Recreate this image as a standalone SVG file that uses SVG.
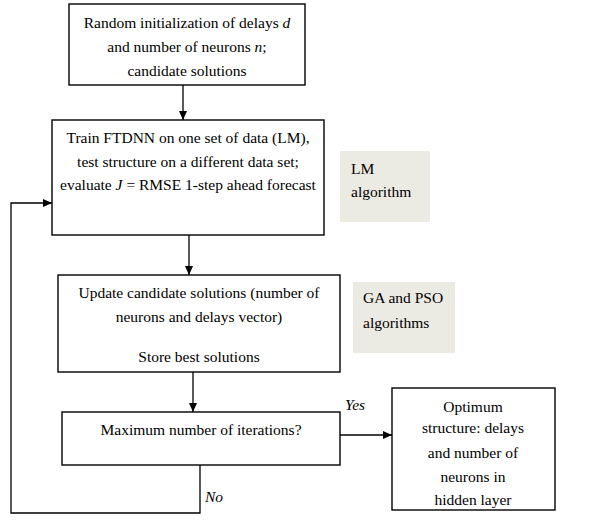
<svg xmlns="http://www.w3.org/2000/svg" width="616" height="521" viewBox="0 0 616 521">
<style>
.box{fill:#fff;stroke:#000;stroke-width:1.4}
.note{fill:#ecebe3;stroke:none}
text{font-family:'Liberation Serif',Tinos,'Times New Roman',serif;font-size:15.5px;fill:#000}
.c{text-anchor:middle}
.i{font-style:italic}
.ln{fill:none;stroke:#000;stroke-width:1.3}
</style>
<defs>
<marker id="ah" markerWidth="10" markerHeight="10" refX="9" refY="5" orient="auto" markerUnits="userSpaceOnUse">
<path d="M0,1 L9,5 L0,9 Z" fill="#000"/>
</marker>
</defs>
<rect width="616" height="521" fill="#fff"/>
<g id="n1">
<rect class="box" x="69" y="4" width="236" height="81"/>
<text class="c" x="187" y="28">Random initialization of delays <tspan class="i">d</tspan></text>
<text class="c" x="187" y="52">and number of neurons <tspan class="i">n</tspan>;</text>
<text class="c" x="187" y="76">candidate solutions</text>
</g>
<g id="n2">
<rect class="box" x="52" y="120" width="272" height="115"/>
<text class="c" x="188" y="143">Train FTDNN  on one set of data (LM),</text>
<text class="c" x="188" y="167">test structure on a different data set;</text>
<text class="c" x="188" y="190">evaluate <tspan class="i">J</tspan> = RMSE  1-step ahead forecast</text>
</g>
<g id="lm">
<rect class="note" x="340" y="151" width="90" height="71"/>
<text x="351" y="174">LM</text>
<text x="351" y="197">algorithm</text>
</g>
<g id="n3">
<rect class="box" x="58" y="275" width="282" height="97"/>
<text class="c" x="199" y="298">Update candidate solutions (number of</text>
<text class="c" x="199" y="322">neurons and delays vector)</text>
<text class="c" x="199" y="362">Store best solutions</text>
</g>
<g id="ga">
<rect class="note" x="353" y="282" width="102" height="71"/>
<text x="363" y="303">GA and PSO</text>
<text x="363" y="328">algorithms</text>
</g>
<g id="n4">
<rect class="box" x="62" y="412" width="278" height="53"/>
<text class="c" x="201" y="435">Maximum number of iterations?</text>
</g>
<g id="n5">
<rect class="box" x="392" y="388" width="163" height="122"/>
<text class="c" x="473" y="412">Optimum</text>
<text class="c" x="473" y="433">structure: delays</text>
<text class="c" x="473" y="458">and number of</text>
<text class="c" x="473" y="482">neurons in</text>
<text class="c" x="473" y="505">hidden layer</text>
</g>
<g id="connectors">
<line class="ln" x1="183" y1="85" x2="183" y2="120" marker-end="url(#ah)"/>
<line class="ln" x1="189" y1="235" x2="189" y2="275" marker-end="url(#ah)"/>
<line class="ln" x1="193" y1="372" x2="193" y2="412" marker-end="url(#ah)"/>
<line class="ln" x1="340" y1="435" x2="392" y2="435" marker-end="url(#ah)"/>
<polyline class="ln" points="200,465 200,513 11,513 11,203 52,203" marker-end="url(#ah)"/>
<text class="i" x="345" y="410">Yes</text>
<text class="i" x="205" y="502">No</text>
</g>
</svg>
